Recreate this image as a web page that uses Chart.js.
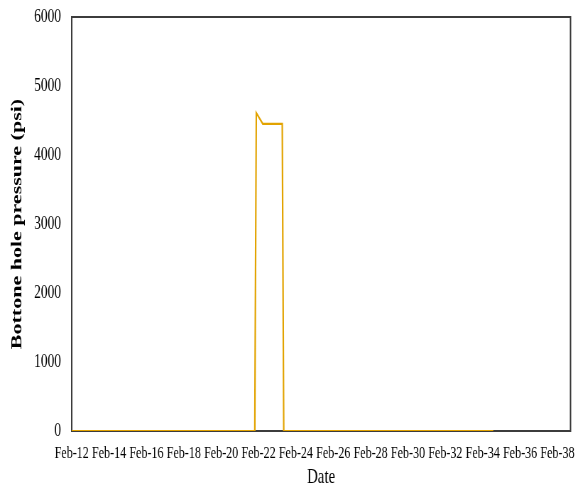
<!DOCTYPE html>
<html>
<head>
<meta charset="utf-8">
<script src="https://cdn.jsdelivr.net/npm/chart.js@4.4.1/dist/chart.umd.min.js"></script>
<style>
  html, body { margin: 0; padding: 0; background: #fff; overflow: hidden; }
  #wrap { width: 814px; height: 494px; transform: scaleX(0.71); transform-origin: 0 0; }
</style>
</head>
<body>
<div id="wrap"><canvas id="c" width="814" height="494"></canvas></div>
<script>
// Day of February (x) and bottom-hole pressure in psi (y)
const days     = [12, 21.80, 21.88, 22.23, 23.27, 23.35, 34.57];
const pressure = [0,  0,     4610,  4450,  4450,  0,     0];
const tickDays   = [12, 14, 16, 18, 20, 22, 24, 26, 28, 30, 32, 34, 36, 38];
const tickLabels = ['Feb-12','Feb-14','Feb-16','Feb-18','Feb-20','Feb-22','Feb-24','Feb-26','Feb-28','Feb-30','Feb-32','Feb-34','Feb-36','Feb-38'];
const yTicks = [0, 1000, 2000, 3000, 4000, 5000, 6000];

const points = days.map((d, i) => ({ x: d, y: pressure[i] }));

const framePlugin = {
  id: 'frame',
  beforeDatasetsDraw(chart) {
    const a = chart.chartArea, ctx = chart.ctx;
    ctx.save();
    ctx.strokeStyle = '#3c3c3c';
    ctx.lineWidth = 2;
    ctx.strokeRect(a.left, a.top, a.right - a.left, a.bottom - a.top);
    ctx.restore();
  }
};

const serif = '"Liberation Serif", "Times New Roman", serif';

new Chart(document.getElementById('c'), {
  type: 'line',
  data: {
    datasets: [{
      data: points,
      borderColor: '#E2A300',
      borderWidth: 2.2,
      pointRadius: 0,
      tension: 0,
      fill: false
    }]
  },
  options: {
    responsive: false,
    animation: false,
    devicePixelRatio: 1,
    layout: { padding: { top: 17, right: 10.5, left: 0, bottom: 0 } },
    plugins: { legend: { display: false }, tooltip: { enabled: false } },
    scales: {
      x: {
        type: 'linear',
        min: 12,
        max: 38.7,
        grid: { display: false, drawTicks: false },
        border: { display: false },
        afterBuildTicks(scale) { scale.ticks = tickDays.map(v => ({ value: v })); },
        ticks: {
          autoSkip: false,
          maxRotation: 0,
          padding: 12,
          color: '#000',
          font: { family: serif, size: 17 },
          callback(v) { const i = tickDays.indexOf(v); return i >= 0 ? tickLabels[i] : ''; }
        },
        afterFit(scale) {
          scale.height = 63;
          scale.paddingLeft = 0; scale.paddingRight = 0;
        },
        title: {
          display: true,
          text: 'Date',
          color: '#000',
          font: { family: serif, size: 21 },
          padding: { top: 0, bottom: 4 }
        }
      },
      y: {
        min: 0,
        max: 6000,
        grid: { display: false, drawTicks: false },
        border: { display: false },
        afterBuildTicks(scale) { scale.ticks = yTicks.map(v => ({ value: v })); },
        afterFit(scale) {
          scale.width = 101;
          scale.paddingTop = 0; scale.paddingBottom = 0;
        },
        ticks: {
          padding: 15,
          color: '#000',
          font: { family: serif, size: 19 },
          callback(v) { return String(v); }
        },
        title: {
          display: true,
          text: 'Bottone hole pressure (psi)',
          color: '#000',
          font: { family: serif, size: 22, weight: 'bold' },
          padding: { top: 11, bottom: 0 }
        }
      }
    }
  },
  plugins: [framePlugin]
});
</script>
</body>
</html>
